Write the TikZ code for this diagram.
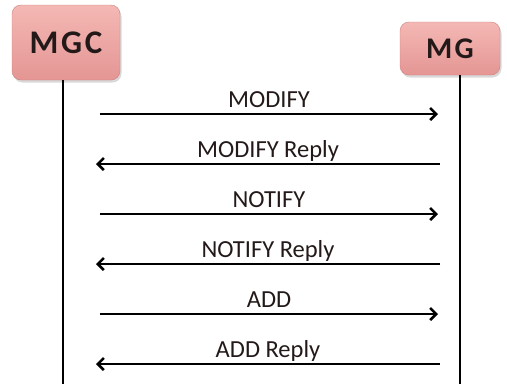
\documentclass[tikz,border=0pt]{standalone}
\usepackage{fontspec}
\setmainfont{Carlito}
\usetikzlibrary{arrows.meta,shadows}
\definecolor{boxtop}{RGB}{244,184,180}
\definecolor{boxbottom}{RGB}{228,150,148}
\definecolor{boxline}{RGB}{205,130,128}
\definecolor{ink}{RGB}{35,25,25}
\tikzset{
 entity/.style={draw=boxline, rounded corners=9pt, top color=boxtop, bottom color=boxbottom,
   text=ink, inner sep=0pt,
   font=\bfseries\fontsize{33}{33}\selectfont\addfontfeatures{LetterSpace=8},
   drop shadow={shadow xshift=1.5pt, shadow yshift=-2.5pt, opacity=.3}},
 lifeline/.style={line width=1.6pt},
 msg/.style={line width=2.6pt, -{Straight Barb[length=6pt,width=12pt]}},
 msglabel/.style={font=\fontsize{24.5}{24.5}\selectfont, text=ink, anchor=base, inner sep=0pt, yshift=7pt}
}
\begin{document}
\begin{tikzpicture}[x=1pt,y=-1pt]
 \useasboundingbox (0,0) rectangle (507,384);
 % entities
 \node[entity, minimum width=108pt, minimum height=75pt] (mgc) at (66,42.5) {MGC};
 \node[entity, minimum width=100pt, minimum height=53pt, font=\bfseries\fontsize{30}{30}\selectfont\addfontfeatures{LetterSpace=8}] (mg) at (450,48.5) {MG};

 % lifelines
 \coordinate (mgcend) at (63,384);
 \coordinate (mgend) at (460,384);
 \draw[lifeline] (mgcend |- mgc.south) -- (mgcend);
 \draw[lifeline] (mgend |- mg.south) -- (mgend);

 % requests MGC -> MG
 \foreach \y/\txt in {114/MODIFY, 214/NOTIFY, 314/ADD}
 {
     \coordinate (req\y) at (100,\y);
     \coordinate (reqend\y) at (438,\y);
     \draw[msg] (req\y) -- node[msglabel]{\txt} (reqend\y);
 }
 % replies MG -> MGC
 \foreach \y/\txt in {164/MODIFY Reply, 264/NOTIFY Reply, 364/ADD Reply}
 {
     \coordinate (rep\y) at (440,\y);
     \coordinate (repend\y) at (96,\y);
     \draw[msg] (rep\y) -- node[msglabel]{\txt} (repend\y);
 }
\end{tikzpicture}
\end{document}
